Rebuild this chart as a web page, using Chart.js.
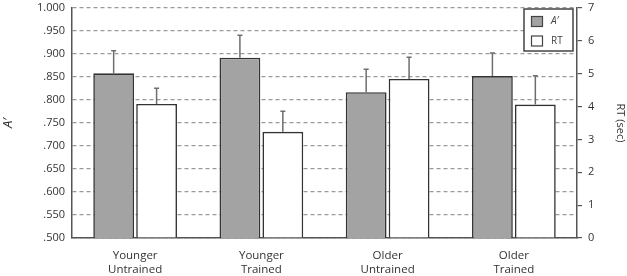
<!DOCTYPE html>
<html>
<head>
<meta charset="utf-8">
<script src="https://cdn.jsdelivr.net/npm/chart.js@4.4.1/dist/chart.umd.min.js"></script>
<style>
html,body{margin:0;padding:0;background:#fff;}
#wrap{width:627px;height:276px;position:relative;}
</style>
</head>
<body>
<div id="wrap"><canvas id="c" width="627" height="276"></canvas></div>
<script>
const categories = [["Younger","Untrained"],["Younger","Trained"],["Older","Untrained"],["Older","Trained"]];
const aPrime = [0.858, 0.892, 0.817, 0.852];
const aPrimeErr = [0.049, 0.049, 0.050, 0.050];
const rtSec = [4.08, 3.23, 4.84, 4.06];
const rtErr = [0.48, 0.63, 0.66, 0.88];
const leftTicks = [1.000, 0.950, 0.900, 0.850, 0.800, 0.750, 0.700, 0.650, 0.600, 0.550, 0.500];
const rightTicks = [0,1,2,3,4,5,6,7];
const legendLabels = ["A\u2032", "RT"];

const FONT = "'Open Sans', 'DejaVu Sans', sans-serif";

function fmtLeft(v){
  if (Math.abs(v-1) < 1e-9) return "1.000";
  return v.toFixed(3).replace(/^0/, "");
}

const errorBars = {
  id: 'errorBars',
  afterDatasetsDraw(chart){
    const ctx = chart.ctx;
    chart.data.datasets.forEach((ds, di) => {
      const meta = chart.getDatasetMeta(di);
      const scale = chart.scales[ds.yAxisID];
      meta.data.forEach((el, i) => {
        const top = scale.getPixelForValue(ds.data[i] + ds.err[i]);
        ctx.save();
        ctx.strokeStyle = '#6e6e6e';
        ctx.lineWidth = 1.5;
        ctx.beginPath();
        ctx.moveTo(el.x, el.y);
        ctx.lineTo(el.x, top);
        ctx.moveTo(el.x - 2.5, top);
        ctx.lineTo(el.x + 2.5, top);
        ctx.stroke();
        ctx.restore();
      });
    });
  }
};

const boxLegend = {
  id: 'boxLegend',
  afterDraw(chart){
    const ctx = chart.ctx;
    const ca = chart.chartArea;
    const w = 49, h = 42;
    const x = ca.right - 53, y = ca.top + 1;
    ctx.save();
    ctx.fillStyle = '#fff';
    ctx.fillRect(x, y, w, h);
    ctx.strokeStyle = '#444';
    ctx.lineWidth = 1.5;
    ctx.strokeRect(x, y, w, h);
    const fills = ['#a3a3a3', '#ffffff'];
    ctx.textBaseline = 'middle';
    for (let k = 0; k < 2; k++){
      const sy = y + 7.5 + k*19.5;
      ctx.fillStyle = fills[k];
      ctx.fillRect(x + 7.5, sy, 11, 10);
      ctx.strokeStyle = '#444';
      ctx.lineWidth = 1.2;
      ctx.strokeRect(x + 7.5, sy, 11, 10);
      ctx.fillStyle = '#444';
      ctx.font = (k === 0 ? "italic " : "") + "10px " + FONT;
      ctx.fillText(legendLabels[k], x + 27, sy + 5);
    }
    ctx.restore();
  }
};

new Chart(document.getElementById('c'), {
  type: 'bar',
  data: {
    labels: categories,
    datasets: [
      { label: legendLabels[0], data: aPrime, err: aPrimeErr, yAxisID: 'y',
        backgroundColor: '#a3a3a3', borderColor: '#333', borderWidth: 1.6 },
      { label: legendLabels[1], data: rtSec, err: rtErr, yAxisID: 'y1',
        backgroundColor: '#ffffff', borderColor: '#333', borderWidth: 1.6 }
    ]
  },
  plugins: [errorBars, boxLegend],
  options: {
    responsive: false,
    animation: false,
    devicePixelRatio: 1,
    layout: { padding: { top: 8, right: 0, bottom: 0, left: 0 } },
    categoryPercentage: 0.68,
    barPercentage: 0.95,
    plugins: { legend: { display: false }, tooltip: { enabled: false } },
    scales: {
      x: {
        grid: { display: false, drawTicks: false },
        border: { display: true, color: '#555', width: 1.5 },
        ticks: { color: '#333', font: { family: FONT, size: 11.5 }, padding: 11, maxRotation: 0 },
        afterFit(s){ s.height = 38; }
      },
      y: {
        position: 'left',
        min: 0.5, max: 1.0,
        afterBuildTicks(s){ s.ticks = leftTicks.map(v => ({ value: v })); },
        grid: { color: '#9a9a9a', lineWidth: 1.2, drawTicks: false },
        border: { display: true, color: '#555', width: 1.5, dash: [4, 3] },
        ticks: { color: '#333', font: { family: FONT, size: 11 }, padding: 7, callback: (v) => fmtLeft(v) },
        title: { display: true, text: "A\u2032", color: '#333', font: { family: FONT, size: 13, style: 'italic' }, padding: 0 },
        afterFit(s){ s.width = 72; s.paddingTop = 0; s.paddingBottom = 0; }
      },
      y1: {
        position: 'right',
        min: 0, max: 7,
        afterBuildTicks(s){ s.ticks = rightTicks.map(v => ({ value: v })); },
        grid: { drawOnChartArea: false, drawTicks: true, tickLength: 5, color: '#555', lineWidth: 1.2 },
        border: { display: true, color: '#555', width: 1.5 },
        ticks: { color: '#333', font: { family: FONT, size: 11 }, padding: 6 },
        title: { display: true, text: "RT (sec)", color: '#333', font: { family: FONT, size: 11 }, padding: 0 },
        afterFit(s){ s.width = 50; s.paddingTop = 0; s.paddingBottom = 0; }
      }
    }
  }
});
</script>
</body>
</html>
